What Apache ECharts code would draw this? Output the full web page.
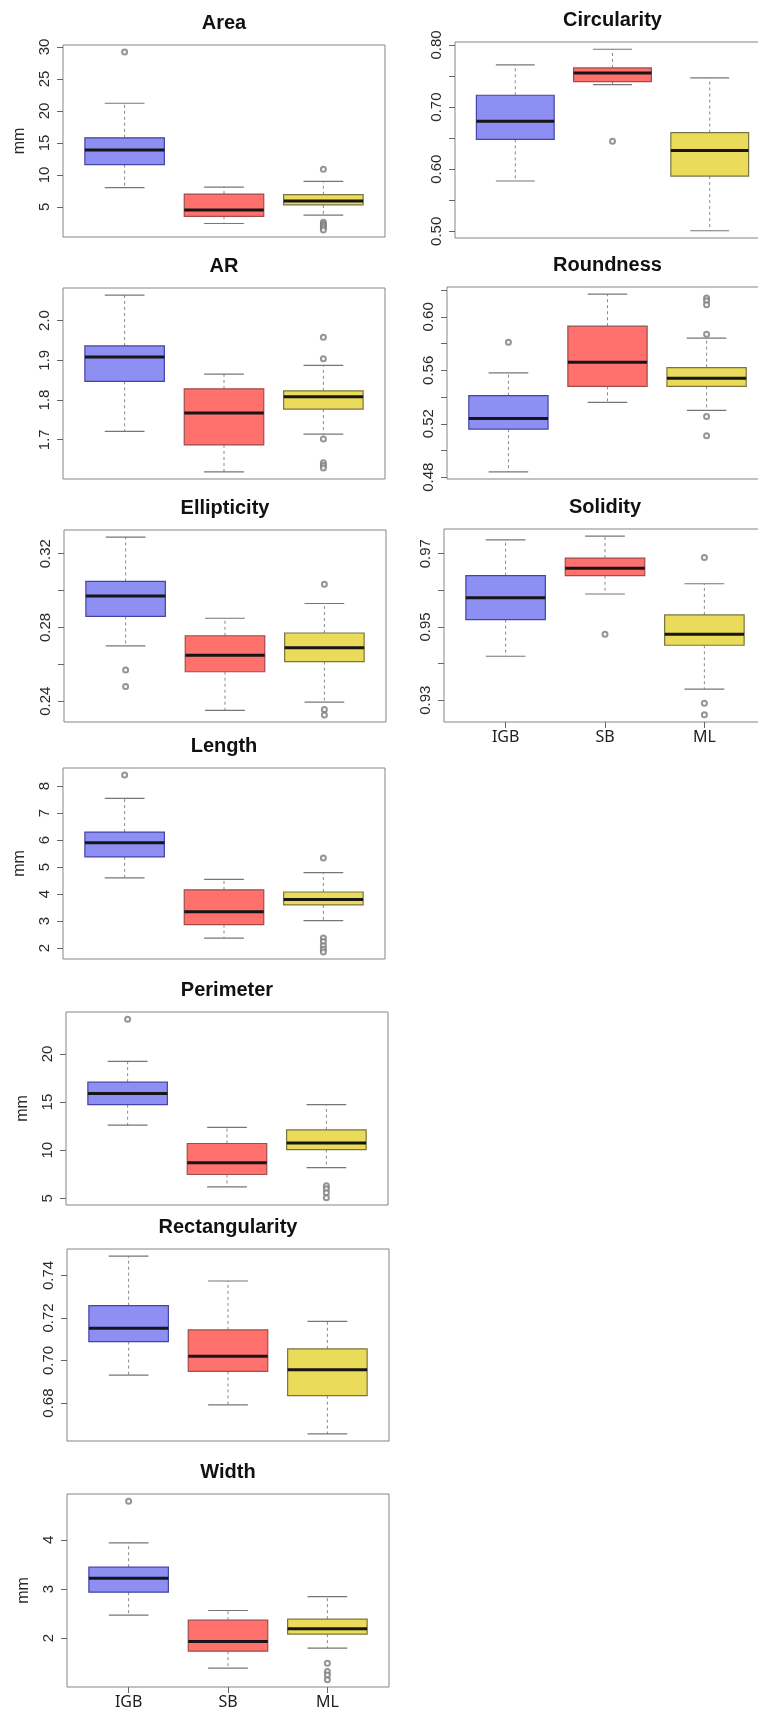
<!DOCTYPE html>
<html>
<head>
<meta charset="utf-8">
<script src="https://cdn.jsdelivr.net/npm/echarts@6/dist/echarts.min.js"></script>
<style>
  html, body { margin: 0; padding: 0; background: #ffffff; }
  #chart { width: 758px; height: 1709px; }
</style>
</head>
<body>
<div id="chart"></div>
<script>
// Groups shown on every panel
const groups = ['IGB', 'SB', 'ML'];

// Box summaries per group: [lower whisker, Q1, median, Q3, upper whisker]
const areaStats = [[8.0, 11.6, 13.9, 15.8, 21.2], [2.4, 3.5, 4.5, 7.0, 8.1], [3.7, 5.3, 5.9, 6.9, 9.0]];
const areaOutliers = [[29.2], [], [10.9, 2.6, 2.3, 2.0, 1.7, 1.4]];
const areaTicks = [5, 10, 15, 20, 25, 30];

const circularityStats = [[0.581, 0.648, 0.677, 0.719, 0.768], [0.736, 0.741, 0.755, 0.763, 0.793], [0.501, 0.589, 0.630, 0.659, 0.747]];
const circularityOutliers = [[], [0.645], []];
const circularityTicks = [0.50, 0.55, 0.60, 0.65, 0.70, 0.75, 0.80];
const circularityLabels = [0.50, 0.60, 0.70, 0.80];

const arStats = [[1.721, 1.847, 1.908, 1.936, 2.064], [1.619, 1.687, 1.767, 1.828, 1.865], [1.714, 1.777, 1.808, 1.823, 1.887]];
const arOutliers = [[], [], [1.958, 1.904, 1.702, 1.642, 1.635, 1.629]];
const arTicks = [1.7, 1.8, 1.9, 2.0];

const roundnessStats = [[0.484, 0.516, 0.524, 0.541, 0.558], [0.536, 0.548, 0.566, 0.593, 0.617], [0.530, 0.548, 0.554, 0.562, 0.584]];
const roundnessOutliers = [[0.581], [], [0.614, 0.612, 0.609, 0.587, 0.5255, 0.511]];
const roundnessTicks = [0.48, 0.50, 0.52, 0.54, 0.56, 0.58, 0.60, 0.62];
const roundnessLabels = [0.48, 0.52, 0.56, 0.60];

const ellipticityStats = [[0.270, 0.286, 0.297, 0.305, 0.329], [0.235, 0.256, 0.265, 0.2755, 0.285], [0.2395, 0.2615, 0.269, 0.277, 0.293]];
const ellipticityOutliers = [[0.257, 0.248], [], [0.3035, 0.2355, 0.2326]];
const ellipticityTicks = [0.24, 0.26, 0.28, 0.30, 0.32];
const ellipticityLabels = [0.24, 0.28, 0.32];

const solidityStats = [[0.942, 0.952, 0.958, 0.964, 0.9738], [0.959, 0.964, 0.966, 0.9688, 0.9748], [0.933, 0.945, 0.948, 0.9533, 0.9618]];
const solidityOutliers = [[], [0.948], [0.969, 0.9292, 0.926]];
const solidityTicks = [0.93, 0.94, 0.95, 0.96, 0.97];
const solidityLabels = [0.93, 0.95, 0.97];

const lengthStats = [[4.60, 5.38, 5.90, 6.30, 7.55], [2.37, 2.87, 3.35, 4.16, 4.55], [3.02, 3.60, 3.80, 4.08, 4.80]];
const lengthOutliers = [[8.41], [], [5.34, 2.38, 2.25, 2.09, 1.96, 1.86]];
const lengthTicks = [2, 3, 4, 5, 6, 7, 8];

const perimeterStats = [[12.6, 14.73, 15.88, 17.07, 19.23], [6.19, 7.47, 8.70, 10.69, 12.36], [8.18, 10.06, 10.75, 12.11, 14.73]];
const perimeterOutliers = [[23.62], [], [6.29, 5.98, 5.56, 5.04]];
const perimeterTicks = [5, 10, 15, 20];

const rectangularityStats = [[0.6931, 0.7089, 0.7152, 0.7258, 0.7491], [0.6791, 0.6949, 0.702, 0.7144, 0.7374], [0.6655, 0.6835, 0.6957, 0.7055, 0.7184]];
const rectangularityOutliers = [[], [], []];
const rectangularityTicks = [0.68, 0.70, 0.72, 0.74];

const widthStats = [[2.468, 2.936, 3.22, 3.444, 3.939], [1.39, 1.736, 1.932, 2.367, 2.563], [1.80, 2.082, 2.19, 2.387, 2.847]];
const widthOutliers = [[4.787], [], [1.492, 1.321, 1.254, 1.153]];
const widthTicks = [2, 3, 4];

// Panel definitions: plot frame as [left, top, right, bottom] in page pixels
const panels = [
  { title: 'Area', stats: areaStats, out: areaOutliers, ticks: areaTicks, labels: areaTicks, dec: 0, unit: 'mm', frame: [63, 45, 385, 237] },
  { title: 'Circularity', stats: circularityStats, out: circularityOutliers, ticks: circularityTicks, labels: circularityLabels, dec: 2, unit: '', frame: [455, 42, 770, 238] },
  { title: 'AR', stats: arStats, out: arOutliers, ticks: arTicks, labels: arTicks, dec: 1, unit: '', frame: [63, 288, 385, 479] },
  { title: 'Roundness', stats: roundnessStats, out: roundnessOutliers, ticks: roundnessTicks, labels: roundnessLabels, dec: 2, unit: '', frame: [447, 287, 768, 479] },
  { title: 'Ellipticity', stats: ellipticityStats, out: ellipticityOutliers, ticks: ellipticityTicks, labels: ellipticityLabels, dec: 2, unit: '', frame: [64, 530, 386, 722] },
  { title: 'Solidity', stats: solidityStats, out: solidityOutliers, ticks: solidityTicks, labels: solidityLabels, dec: 2, unit: '', frame: [444, 529, 766, 722], xLabels: true },
  { title: 'Length', stats: lengthStats, out: lengthOutliers, ticks: lengthTicks, labels: lengthTicks, dec: 0, unit: 'mm', frame: [63, 768, 385, 959] },
  { title: 'Perimeter', stats: perimeterStats, out: perimeterOutliers, ticks: perimeterTicks, labels: perimeterTicks, dec: 0, unit: 'mm', frame: [66, 1012, 388, 1205] },
  { title: 'Rectangularity', stats: rectangularityStats, out: rectangularityOutliers, ticks: rectangularityTicks, labels: rectangularityTicks, dec: 2, unit: '', frame: [67, 1249, 389, 1441] },
  { title: 'Width', stats: widthStats, out: widthOutliers, ticks: widthTicks, labels: widthTicks, dec: 0, unit: 'mm', frame: [67, 1494, 389, 1687], xLabels: true }
];

// Styling
const fills = ['#8e8ff2', '#fe716d', '#eadb5a'];
const borders = ['#4444a6', '#a04c4a', '#7a7444'];
const BOX_HALF = 0.4;   // half box width in group units
const CAP_HALF = 0.2;   // half staple width in group units
const X_RANGE = [0.38, 3.62];
const positions = groups.map((g, i) => i + 1);

// Vertical range like R: data range padded by 4 % on each side
function yRange(stats, out) {
  const vals = stats.flat().concat(out.flat());
  const lo = Math.min(...vals), hi = Math.max(...vals);
  const pad = 0.04 * (hi - lo);
  return [lo - pad, hi + pad];
}

function renderBox(params, api) {
  const x = api.value(0);
  const lo = api.coord([x, api.value(1)]);
  const q1 = api.coord([x, api.value(2)]);
  const md = api.coord([x, api.value(3)]);
  const q3 = api.coord([x, api.value(4)]);
  const hi = api.coord([x, api.value(5)]);
  const half = api.size([BOX_HALF, 0])[0];
  const cap = api.size([CAP_HALF, 0])[0];
  const cx = lo[0];
  const g = params.dataIndex;
  const dashStyle = { stroke: '#8a8a8a', lineWidth: 1, lineDash: [3, 3] };
  const capStyle = { stroke: '#767676', lineWidth: 1.2 };
  return {
    type: 'group',
    children: [
      { type: 'line', shape: { x1: cx, y1: q3[1], x2: cx, y2: hi[1] }, style: dashStyle },
      { type: 'line', shape: { x1: cx, y1: q1[1], x2: cx, y2: lo[1] }, style: dashStyle },
      { type: 'line', shape: { x1: cx - cap, y1: hi[1], x2: cx + cap, y2: hi[1] }, style: capStyle },
      { type: 'line', shape: { x1: cx - cap, y1: lo[1], x2: cx + cap, y2: lo[1] }, style: capStyle },
      { type: 'rect', shape: { x: cx - half, y: q3[1], width: 2 * half, height: q1[1] - q3[1] },
        style: { fill: fills[g], stroke: borders[g], lineWidth: 1.2 } },
      { type: 'line', shape: { x1: cx - half, y1: md[1], x2: cx + half, y2: md[1] },
        style: { stroke: '#161616', lineWidth: 3 } }
    ]
  };
}

const grid = [], xAxis = [], yAxis = [], series = [], title = [];

panels.forEach((p, k) => {
  const [l, t, r, b] = p.frame;
  const [yMin, yMax] = yRange(p.stats, p.out);
  grid.push({
    left: l, top: t, width: r - l, height: b - t,
    show: true, borderColor: '#858585', borderWidth: 1, backgroundColor: 'transparent',
    outerBoundsMode: 'none', containLabel: false
  });
  xAxis.push({
    gridIndex: k, type: 'value', min: X_RANGE[0], max: X_RANGE[1],
    show: !!p.xLabels,
    axisLine: { show: false }, splitLine: { show: false },
    axisTick: { show: true, length: 6, customValues: positions, lineStyle: { color: '#666' } },
    axisLabel: {
      customValues: positions, margin: 7, fontSize: 16, fontFamily: 'Noto Sans', color: '#222',
      formatter: v => groups[Math.round(v) - 1]
    }
  });
  yAxis.push({
    gridIndex: k, type: 'value', min: yMin, max: yMax,
    axisLine: { show: false }, splitLine: { show: false },
    axisTick: { show: true, length: 6, customValues: p.ticks, lineStyle: { color: '#666' } },
    axisLabel: {
      customValues: p.labels, rotate: 90, margin: 11, fontSize: 15,
      fontFamily: 'Liberation Sans', color: '#2a2a2a',
      formatter: v => Number(v).toFixed(p.dec)
    },
    name: p.unit, nameLocation: 'middle', nameGap: 35,
    nameTextStyle: { fontSize: 16, fontFamily: 'Liberation Sans', color: '#2a2a2a' }
  });
  series.push({
    type: 'custom', xAxisIndex: k, yAxisIndex: k, silent: true,
    renderItem: renderBox,
    encode: { x: 0, y: [1, 2, 3, 4, 5] },
    data: p.stats.map((s, i) => [positions[i]].concat(s))
  });
  series.push({
    type: 'scatter', xAxisIndex: k, yAxisIndex: k, silent: true,
    symbol: 'emptyCircle', symbolSize: 5,
    itemStyle: { color: '#7a7a7a', borderColor: '#7a7a7a', borderWidth: 0.9 },
    data: p.out.flatMap((arr, i) => arr.map(v => [positions[i], v]))
  });
  title.push({
    text: p.title, left: (l + r) / 2, top: t - 22, padding: 0,
    textAlign: 'center', textVerticalAlign: 'middle',
    textStyle: { fontSize: 20, fontWeight: 'bold', fontFamily: 'Liberation Sans', color: '#111' }
  });
});

const chart = echarts.init(document.getElementById('chart'), null, { renderer: 'canvas' });
chart.setOption({
  backgroundColor: '#ffffff',
  animation: false,
  title, grid, xAxis, yAxis, series
});
</script>
</body>
</html>
